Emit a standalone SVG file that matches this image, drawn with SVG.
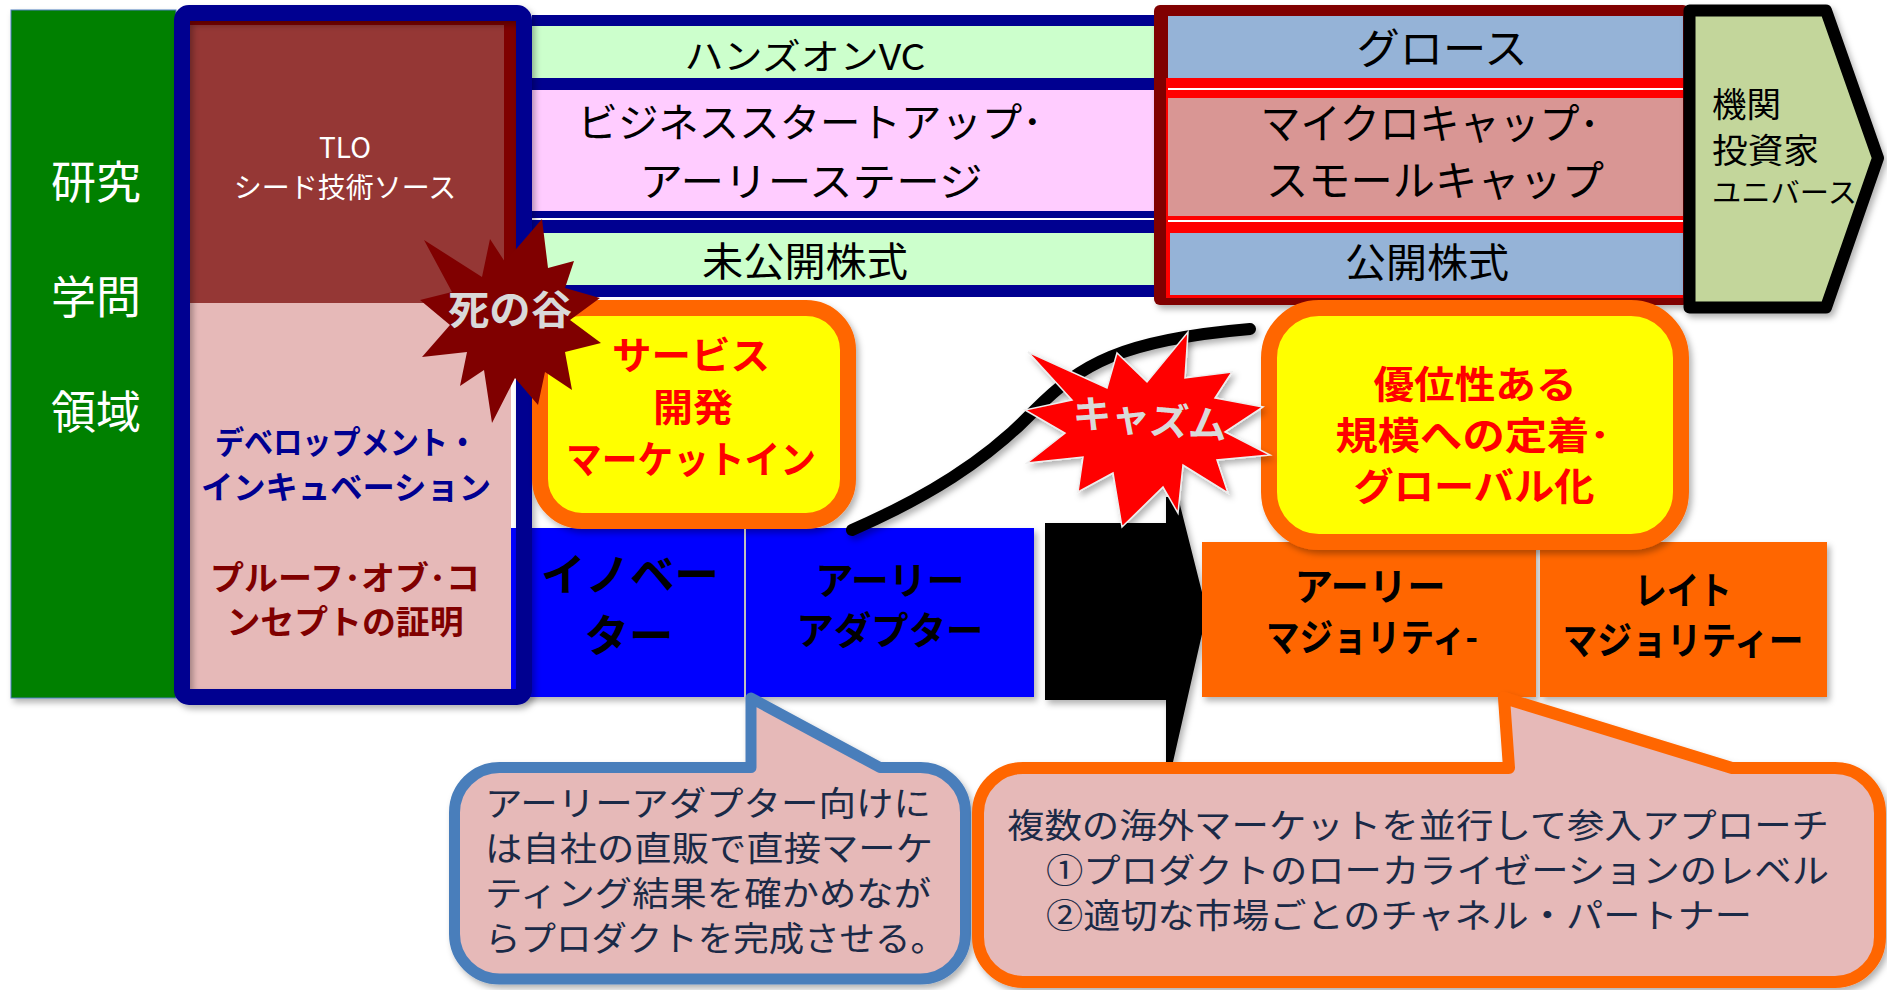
<svg xmlns="http://www.w3.org/2000/svg" width="1887" height="990" viewBox="0 0 1887 990">
<defs>
<filter id="sh" x="-10%" y="-10%" width="120%" height="120%">
<feDropShadow dx="3" dy="4" stdDeviation="3" flood-color="#000" flood-opacity="0.3"/>
</filter>
<style>
text{font-family:"Noto Sans CJK JP","Noto Sans",sans-serif;}
.c{text-anchor:middle;}
.w{fill:#fff;}
.k{fill:#000;}
.b{font-weight:bold;}
.r{fill:#ff0000;font-weight:bold;}
.g{fill:#d9d9d9;font-weight:bold;}
.nt{fill:#1b2a47;}
</style>
</defs>
<rect width="1887" height="990" fill="#fff"/>

<g id="research-panel">
<rect x="11" y="10" width="165" height="688" fill="#008000" stroke="#4a7ebb" stroke-width="1" filter="url(#sh)"/>
<text class="w c" x="96" y="199" font-size="45">研究</text>
<text class="w c" x="96" y="314" font-size="45">学問</text>
<text class="w c" x="96" y="429" font-size="45">領域</text>
</g>

<g id="market-bands">
<rect x="532" y="15" width="622" height="282" fill="#000090"/>
<rect x="532" y="26" width="622" height="52" fill="#ccffcc"/>
<rect x="532" y="90" width="622" height="121" fill="#ffccff"/>
<rect x="532" y="218" width="622" height="2" fill="#fff"/>
<rect x="532" y="233" width="622" height="52" fill="#ccffcc"/>
<text class="k c" x="805" y="70" font-size="36" textLength="241" lengthAdjust="spacingAndGlyphs">ハンズオンVC</text>
<text class="k c" x="810" y="137" font-size="40" textLength="465" lengthAdjust="spacingAndGlyphs">ビジネススタートアップ･</text>
<text class="k c" x="811" y="196" font-size="40" textLength="343" lengthAdjust="spacingAndGlyphs">アーリーステージ</text>
<text class="k c" x="805" y="276" font-size="40" textLength="206" lengthAdjust="spacingAndGlyphs">未公開株式</text>
</g>

<g id="public-bands">
<rect x="1154" y="5" width="535" height="300" rx="6" fill="#800000" filter="url(#sh)"/>
<rect x="1166" y="78" width="517" height="220" fill="#ff0000"/>
<rect x="1168" y="16" width="515" height="62" fill="#95b3d7"/>
<rect x="1168" y="88" width="515" height="2" fill="#fff"/>
<rect x="1168" y="98" width="515" height="118" fill="#d99694"/>
<rect x="1168" y="220" width="515" height="2" fill="#fff"/>
<rect x="1170" y="233" width="513" height="62" fill="#95b3d7"/>
<text class="k c" x="1442" y="64" font-size="42" textLength="171" lengthAdjust="spacingAndGlyphs">グロース</text>
<text class="k c" x="1430" y="139" font-size="42" textLength="339" lengthAdjust="spacingAndGlyphs">マイクロキャップ･</text>
<text class="k c" x="1435" y="196" font-size="42" textLength="338" lengthAdjust="spacingAndGlyphs">スモールキャップ</text>
<text class="k c" x="1427" y="277" font-size="40" textLength="164" lengthAdjust="spacingAndGlyphs">公開株式</text>
</g>

<g id="institutional-investors">
<path d="M1689.5,10.5 L1826,10.5 L1878,158 L1826,307.5 L1689.5,307.5 Z" fill="#c3d69b" stroke="#000" stroke-width="12" stroke-linejoin="round" filter="url(#sh)"/>
<text class="k" x="1712" y="117" font-size="34" textLength="69" lengthAdjust="spacingAndGlyphs">機関</text>
<text class="k" x="1712" y="163" font-size="34" textLength="107" lengthAdjust="spacingAndGlyphs">投資家</text>
<text class="k" x="1712" y="203" font-size="28" textLength="145" lengthAdjust="spacingAndGlyphs">ユニバース</text>
</g>

<g id="innovator">
<rect x="511" y="528" width="233" height="169" fill="#0000ff" filter="url(#sh)"/>
<text class="k c b" x="630" y="591" font-size="44" textLength="178" lengthAdjust="spacingAndGlyphs">イノベー</text>
<text class="k c b" x="629" y="652" font-size="44" textLength="89" lengthAdjust="spacingAndGlyphs">ター</text>
</g>

<g id="early-adopter">
<rect x="746" y="528" width="288" height="169" fill="#0000ff" filter="url(#sh)"/>
<text class="k c b" x="890" y="594" font-size="38" textLength="149" lengthAdjust="spacingAndGlyphs">アーリー</text>
<text class="k c b" x="890" y="644" font-size="38" textLength="187" lengthAdjust="spacingAndGlyphs">アダプター</text>
</g>

<g id="chasm-gap">
<polygon points="1045,523 1166,523 1166,497 1178,497 1207,612 1173,762 1166,762 1166,700 1045,700" fill="#000" filter="url(#sh)"/>
</g>

<g id="early-majority">
<rect x="1202" y="542" width="334" height="155" fill="#ff6600" filter="url(#sh)"/>
<text class="k c b" x="1370" y="600" font-size="38" textLength="151" lengthAdjust="spacingAndGlyphs">アーリー</text>
<text class="k c b" x="1372" y="651" font-size="38" textLength="212" lengthAdjust="spacingAndGlyphs">マジョリティ-</text>
</g>

<g id="late-majority">
<rect x="1540" y="542" width="287" height="155" fill="#ff6600" filter="url(#sh)"/>
<text class="k c b" x="1683" y="604" font-size="38" textLength="97" lengthAdjust="spacingAndGlyphs">レイト</text>
<text class="k c b" x="1683" y="654" font-size="38" textLength="241" lengthAdjust="spacingAndGlyphs">マジョリティー</text>
</g>

<g id="tlo-frame">
<rect x="189" y="303" width="322" height="386" fill="#e6b9b8"/>
<rect x="189" y="21" width="327" height="282" fill="#953735"/>
<rect x="504" y="21" width="12" height="282" fill="#7f0000"/>
<rect x="189" y="21" width="327" height="4" fill="#7f0000"/>
<rect x="182" y="13" width="342" height="684" rx="7" fill="none" stroke="#000090" stroke-width="16" filter="url(#sh)"/>
<text class="w c" x="345" y="158" font-size="28">TLO</text>
<text class="w c" x="345" y="198" font-size="28">シード技術ソース</text>
<text class="c b" x="346" y="454" font-size="32" fill="#000090" textLength="262" lengthAdjust="spacingAndGlyphs">デベロップメント・</text>
<text class="c b" x="346" y="499" font-size="32" fill="#000090" textLength="290" lengthAdjust="spacingAndGlyphs">インキュベーション</text>
<text class="c b" x="345" y="590" font-size="33" fill="#800000" textLength="270" lengthAdjust="spacingAndGlyphs">プルーフ･オブ･コ</text>
<text class="c b" x="345" y="634" font-size="33" fill="#800000" textLength="237" lengthAdjust="spacingAndGlyphs">ンセプトの証明</text>
</g>

<g id="service-dev">
<rect x="540" y="308" width="308" height="213" rx="42" fill="#ffff00" stroke="#ff6600" stroke-width="16" filter="url(#sh)"/>
<text class="r c" x="691" y="369" font-size="38" textLength="158" lengthAdjust="spacingAndGlyphs">サービス</text>
<text class="r c" x="693" y="421" font-size="38" textLength="80" lengthAdjust="spacingAndGlyphs">開発</text>
<text class="r c" x="691" y="473" font-size="38" textLength="250" lengthAdjust="spacingAndGlyphs">マーケットイン</text>
</g>

<g id="globalization">
<rect x="1269" y="308" width="412" height="234" rx="50" fill="#ffff00" stroke="#ff6600" stroke-width="16" filter="url(#sh)"/>
<text class="r c" x="1475" y="398" font-size="38" textLength="203" lengthAdjust="spacingAndGlyphs">優位性ある</text>
<text class="r c" x="1473" y="449" font-size="38" textLength="275" lengthAdjust="spacingAndGlyphs">規模への定着･</text>
<text class="r c" x="1474" y="500" font-size="38" textLength="241" lengthAdjust="spacingAndGlyphs">グローバル化</text>
</g>

<g id="connectors">
<path d="M852,530 C925,498 985,462 1035,410 C1080,365 1120,340 1250,329" fill="none" stroke="#000" stroke-width="12" stroke-linecap="round" filter="url(#sh)"/>
</g>

<g id="valley-of-death">
<polygon points="424,240 482,277 490,239 505,262 542,219 548,268 574,261 565,288 600,298 570,320 601,343 565,352 572,390 545,372 538,405 515,378 492,423 484,370 460,386 467,352 422,357 450,325 420,300 452,292" fill="#800000"/>
<text class="g c" x="510" y="324" font-size="40" textLength="124" lengthAdjust="spacingAndGlyphs">死の谷</text>
</g>

<g id="chasm">
<polygon points="1028,352 1107,388 1117,353 1147,382 1188,332 1185,378 1232,372 1215,398 1263,407 1225,432 1270,455 1217,460 1228,493 1183,465 1178,513 1163,487 1122,527 1113,473 1078,492 1083,457 1027,463 1065,433 1025,410 1072,400" fill="#ff0000" stroke="#eeeeee" stroke-width="1.5" filter="url(#sh)"/>
<text class="g c" x="1150" y="433" font-size="38" textLength="155" lengthAdjust="spacingAndGlyphs" transform="rotate(5 1150 420)">キャズム</text>
</g>

<g id="callout-early-adopter">
<path d="M500,767.5 L751,767.5 L751,698 L880,767.5 L920,767.5 A45,45 0 0 1 965.5,812.5 L965.5,934 A45,45 0 0 1 920,979 L500,979 A45,45 0 0 1 454.5,934 L454.5,812.5 A45,45 0 0 1 500,767.5 Z" fill="#e6b9b8" stroke="#4a7ebb" stroke-width="11" stroke-linejoin="round" filter="url(#sh)"/>
<text class="nt" x="485" y="816" font-size="34" textLength="446" lengthAdjust="spacingAndGlyphs">アーリーアダプター向けに</text>
<text class="nt" x="485" y="861" font-size="34" textLength="448" lengthAdjust="spacingAndGlyphs">は自社の直販で直接マーケ</text>
<text class="nt" x="485" y="906" font-size="34" textLength="446" lengthAdjust="spacingAndGlyphs">ティング結果を確かめなが</text>
<text class="nt" x="485" y="951" font-size="34" textLength="461" lengthAdjust="spacingAndGlyphs">らプロダクトを完成させる。</text>
</g>

<g id="callout-global">
<path d="M1023,768 L1509,768 L1504,698 L1732,768 L1835,768 A45,45 0 0 1 1880,813 L1880,937 A45,45 0 0 1 1835,982 L1023,982 A45,45 0 0 1 978,937 L978,813 A45,45 0 0 1 1023,768 Z" fill="#e6b9b8" stroke="#ff6600" stroke-width="12" stroke-linejoin="round" filter="url(#sh)"/>
<text class="nt" x="1007" y="838" font-size="34" textLength="822" lengthAdjust="spacingAndGlyphs">複数の海外マーケットを並行して参入アプローチ</text>
<text class="nt" x="1046" y="883" font-size="34" textLength="783" lengthAdjust="spacingAndGlyphs">①プロダクトのローカライゼーションのレベル</text>
<text class="nt" x="1046" y="928" font-size="34" textLength="706" lengthAdjust="spacingAndGlyphs">②適切な市場ごとのチャネル・パートナー</text>
</g>
</svg>
